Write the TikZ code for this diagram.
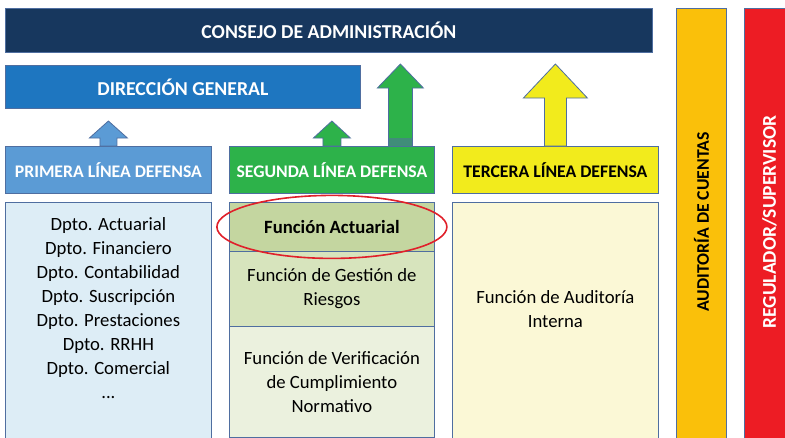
\documentclass[tikz,border=0pt]{standalone}
\usepackage{fontspec}
\setmainfont{Carlito}
\usetikzlibrary{shapes.geometric,calc}
\definecolor{consejo}{RGB}{23,55,94}
\definecolor{direccion}{RGB}{30,118,192}
\definecolor{primera}{RGB}{91,155,213}
\definecolor{segunda}{RGB}{45,178,74}
\definecolor{tercera}{RGB}{242,235,28}
\definecolor{auditoria}{RGB}{250,192,10}
\definecolor{regulador}{RGB}{237,28,36}
\definecolor{lightblue}{RGB}{221,237,246}
\definecolor{cellA}{RGB}{196,214,160}
\definecolor{cellB}{RGB}{215,228,189}
\definecolor{cellC}{RGB}{235,241,222}
\definecolor{lightyellow}{RGB}{251,248,214}
\definecolor{edgeblue}{RGB}{79,110,160}
\definecolor{ovalred}{RGB}{224,32,42}
\begin{document}
\begin{tikzpicture}[x=1pt,y=-1pt,
    box/.style={draw=edgeblue,line width=0.8pt,rectangle,anchor=north west,inner sep=0pt,
      font=\fontsize{17.7}{20}\selectfont\bfseries},
    body/.style={draw=edgeblue,line width=0.8pt,rectangle,anchor=north west,inner sep=0pt,
      align=center,font=\fontsize{18.7}{24}\selectfont},
    txt/.style={align=center,inner sep=0pt,font=\fontsize{18.7}{24}\selectfont},
    uparrow/.style={draw=edgeblue,line width=0.8pt}]
  \useasboundingbox (0,0) rectangle (785,437);
  % top boxes
  \node[box,fill=consejo,text=white,minimum width=647pt,minimum height=44pt,
    font=\fontsize{19.7}{22}\selectfont\bfseries] (cons) at (5,8) {CONSEJO DE ADMINISTRACIÓN};
  \node[box,fill=direccion,text=white,minimum width=355pt,minimum height=43pt,
    font=\fontsize{19.7}{22}\selectfont\bfseries] (dir) at (5,65) {DIRECCIÓN GENERAL};
  % the three lines
  \node[box,fill=primera,text=white,minimum width=206pt,minimum height=47pt] (l1) at (5,146) {PRIMERA LÍNEA DEFENSA};
  \node[box,fill=segunda,text=white,minimum width=205pt,minimum height=47pt] (l2) at (229,146) {SEGUNDA LÍNEA DEFENSA};
  \node[box,fill=tercera,minimum width=206pt,minimum height=47pt] (l3) at (452,146) {TERCERA LÍNEA DEFENSA};
  % side bars
  \node[box,fill=auditoria,minimum width=50pt,minimum height=440pt] (aud) at (676,8) {};
  \node[rotate=90,inner sep=0pt,font=\fontsize{17.7}{20}\selectfont\bfseries] (audtxt)
    at ($(aud.north)+(0,214)$) {AUDITORÍA DE CUENTAS};
  \node[box,fill=regulador,minimum width=50pt,minimum height=440pt] (reg) at (744,8) {};
  \node[rotate=90,text=white,inner sep=0pt,font=\fontsize{19.5}{22}\selectfont\bfseries] (regtxt)
    at ($(reg.north)+(0,214)$) {REGULADOR/SUPERVISOR};
  % lower boxes
  \node[body,fill=lightblue,minimum width=206pt,minimum height=240pt] (b1) at (5,202) {};
  \node[txt] (deps) at ($(b1.north)+(0,106)$) {Dpto. Actuarial\\Dpto. Financiero\\Dpto. Contabilidad\\
    Dpto. Suscripción\\Dpto. Prestaciones\\Dpto. RRHH\\Dpto. Comercial\\...};
  \node[body,fill=cellA,minimum width=205pt,minimum height=49pt,font=\fontsize{18.7}{24}\selectfont\bfseries] (fa) at (229,202) {Función Actuarial};
  \node[body,fill=cellB,minimum width=205pt,minimum height=75pt] (fg) at (229,251) {Función de Gestión de\\Riesgos};
  \node[body,fill=cellC,minimum width=205pt,minimum height=111pt] (fv) at (229,326) {Función de Verificación\\de Cumplimiento\\Normativo};
  \node[body,fill=lightyellow,minimum width=206pt,minimum height=240pt] (b3) at (452,202) {};
  \node[txt] (audint) at ($(b3.north)+(0,107)$) {Función de Auditoría\\Interna};
  % arrows
  \draw[uparrow,fill=primera] ($(l1.north)+(-8.5,0)$) -- ++(0,-8) -- ++(-10.5,0) -- ++(19,-17)
    -- ++(19,17) -- ++(-10.5,0) -- ++(0,8) -- cycle;
  \draw[uparrow,fill=segunda] ($(l2.north)+(-9,0)$) -- ++(0,-8) -- ++(-9.5,0) -- ++(18.5,-17)
    -- ++(18.5,17) -- ++(-9.5,0) -- ++(0,8) -- cycle;
  \draw[uparrow,fill=segunda] ($(l2.north)+(56.5,0)$) -- ++(0,-58) -- ++(-11,0) -- ++(23,-24)
    -- ++(23,24) -- ++(-11,0) -- ++(0,58) -- cycle;
  \fill[segunda!45!edgeblue] ($(l2.north)+(57,-0.5)$) rectangle ++(23,-8);
  \draw[uparrow,fill=tercera] ($(l3.north)+(-11,0)$) -- ++(0,-48) -- ++(-21,0) -- ++(32,-34)
    -- ++(32,34) -- ++(-21,0) -- ++(0,48) -- cycle;
  % highlight
  \node[draw=ovalred,line width=1.6pt,ellipse,minimum width=230pt,minimum height=63pt,inner sep=0pt] (oval) at (fa.center) {};
\end{tikzpicture}
\end{document}
